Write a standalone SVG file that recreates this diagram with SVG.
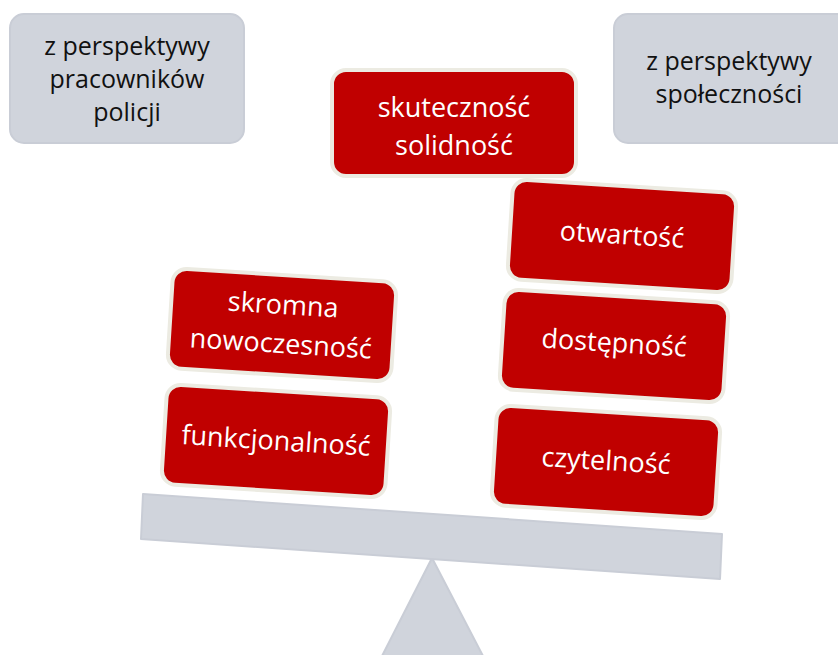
<svg xmlns="http://www.w3.org/2000/svg" width="838" height="655" viewBox="0 0 838 655">
<style>
.gray{fill:#d0d4dc;stroke:#c9cdd6;stroke-width:2}
.red{fill:#c00000;stroke:#ecebe2;stroke-width:4}
.tg{font-family:"Open Sans","Noto Sans",sans-serif;font-size:25px;fill:#111;text-anchor:middle}
.tw{font-family:"Open Sans","Noto Sans",sans-serif;font-size:27px;fill:#fff;text-anchor:middle}
</style>
<rect width="838" height="655" fill="#fff"/>
<g id="scale">
<polygon class="gray" points="432,558 382,656 483,656"/>
<polygon class="gray" points="143,494 722,534 720,579 141,539" stroke-linejoin="round"/>
</g>
<g id="persp-police">
<rect class="gray" x="10" y="14" width="234" height="129" rx="14"/>
<text class="tg" x="127" y="55">z perspektywy</text>
<text class="tg" x="127" y="88">pracowników</text>
<text class="tg" x="127" y="121">policji</text>
</g>
<g id="persp-community">
<rect class="gray" x="614" y="14" width="240" height="129" rx="14"/>
<text class="tg" x="729" y="70">z perspektywy</text>
<text class="tg" x="729" y="103">społeczności</text>
</g>
<g id="skutecznosc">
<rect class="red" x="332" y="70" width="244" height="106" rx="14"/>
<text class="tw" x="454" y="117">skuteczność</text>
<text class="tw" x="454" y="155">solidność</text>
</g>
<g id="skromna" transform="translate(282,325) rotate(3.6)">
<rect class="red" x="-112" y="-50" width="224" height="100" rx="14"/>
<text class="tw" x="0" y="-11">skromna</text>
<text class="tw" x="0" y="28">nowoczesność</text>
</g>
<g id="funkcjonalnosc" transform="translate(276,441) rotate(3.6)">
<rect class="red" x="-112" y="-50" width="224" height="100" rx="14"/>
<text class="tw" x="0" y="9">funkcjonalność</text>
</g>
<g id="otwartosc" transform="translate(622,236) rotate(3.6)">
<rect class="red" x="-112" y="-50" width="224" height="100" rx="14"/>
<text class="tw" x="0" y="8">otwartość</text>
</g>
<g id="dostepnosc" transform="translate(614,346) rotate(3.6)">
<rect class="red" x="-112" y="-50" width="224" height="100" rx="14"/>
<text class="tw" x="0" y="6">dostępność</text>
</g>
<g id="czytelnosc" transform="translate(606,462) rotate(3.6)">
<rect class="red" x="-112" y="-50" width="224" height="100" rx="14"/>
<text class="tw" x="0" y="8">czytelność</text>
</g>
<g id="connectors"/>
</svg>
